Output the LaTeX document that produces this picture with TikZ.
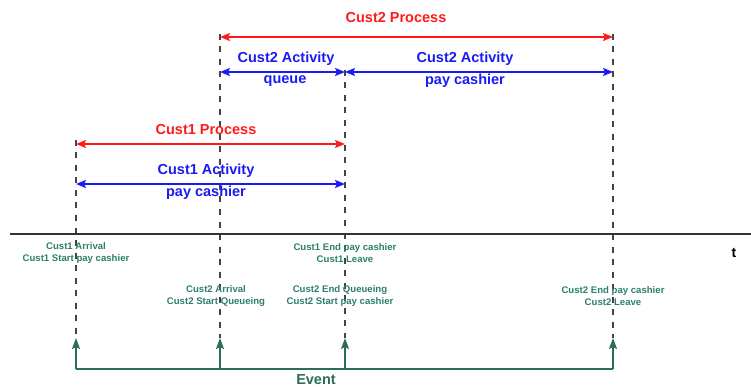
\documentclass[tikz,border=0pt]{standalone}
\usepackage{fontspec}
\setmainfont{Liberation Sans}
\usetikzlibrary{arrows.meta}
\definecolor{procred}{HTML}{FF1A1A}
\definecolor{actblue}{HTML}{1A1AF5}
\definecolor{evgreen}{HTML}{2A6E55}
\definecolor{lblgreen}{HTML}{2C7F6C}
\definecolor{axisgray}{HTML}{333333}
\definecolor{guidegray}{HTML}{444444}
\tikzset{
  guide/.style={draw=guidegray, line width=1.2pt, dash pattern=on 6pt off 6.5pt},
  procarrow/.style={draw=procred, line width=1.7pt, {Stealth[length=10pt,width=8pt,inset=2pt]}-{Stealth[length=10pt,width=8pt,inset=2pt]}},
  actarrow/.style={draw=actblue, line width=1.7pt, {Stealth[length=10pt,width=8pt,inset=2pt]}-{Stealth[length=10pt,width=8pt,inset=2pt]}},
  proclabel/.style={text=procred, font=\bfseries\fontsize{14.5}{16}\selectfont, inner sep=0pt},
  actlabel/.style={text=actblue, font=\bfseries\fontsize{14.5}{16}\selectfont, inner sep=0pt, align=center},
  evlabel/.style={text=lblgreen, font=\bfseries\fontsize{9.6}{11.2}\selectfont, inner sep=0pt, align=center},
  evarrow/.style={draw=evgreen, line width=1.8pt, -{Stealth[length=11pt,width=8pt,inset=2pt]}},
  evline/.style={draw=evgreen, line width=1.8pt}
}
\begin{document}
\begin{tikzpicture}[x=1pt,y=-1pt]
\useasboundingbox (0,0) rectangle (751,387);

% dashed guides
\coordinate (g1top) at (76,140);  \coordinate (g1bot) at (76,338);
\coordinate (g2top) at (220,34);  \coordinate (g2bot) at (220,338);
\coordinate (g3top) at (345,70);  \coordinate (g3bot) at (345,338);
\coordinate (g4top) at (613,34);  \coordinate (g4bot) at (613,338);
\draw[guide] (g1top) -- (g1bot);
\draw[guide] (g2top) -- (g2bot);
\draw[guide] (g3top) -- (g3bot);
\draw[guide] (g4top) -- (g4bot);

% time axis
\coordinate (axL) at (10,234);
\coordinate (axR) at (751,234);
\draw[draw=axisgray, line width=2.8pt] (axL) -- (axR);
\node[font=\bfseries\fontsize{14}{16}\selectfont, inner sep=0pt] (tlab) at (734,253) {t};

% customer 2 process and activities
\coordinate (c2pL) at (220,37);  \coordinate (c2pR) at (613,37);
\draw[procarrow] (c2pL) -- (c2pR);
\node[proclabel] (c2proc) at (396,18) {Cust2 Process};

\coordinate (c2qL) at (220,72);  \coordinate (c2qR) at (345,72);
\coordinate (c2cL) at (345,72);  \coordinate (c2cR) at (613,72);
\draw[actarrow] (c2qL) -- (c2qR);
\draw[actarrow] (c2cL) -- (c2cR);
\node[actlabel] (c2act1) at (286,59) {Cust2 Activity};
\node[actlabel] (c2q) at (285,81) {queue};
\node[actlabel] (c2act2) at (465,59) {Cust2 Activity};
\node[actlabel] (c2pay) at (465,81) {pay cashier};

% customer 1 process and activity
\coordinate (c1pL) at (76,144);  \coordinate (c1pR) at (345,144);
\draw[procarrow] (c1pL) -- (c1pR);
\node[proclabel] (c1proc) at (206,130) {Cust1 Process};

\coordinate (c1aL) at (76,184);  \coordinate (c1aR) at (345,184);
\draw[actarrow] (c1aL) -- (c1aR);
\node[actlabel] (c1act) at (206,171) {Cust1 Activity};
\node[actlabel] (c1pay) at (206,193) {pay cashier};

% event descriptions
\node[evlabel] (ev1) at (76,253) {Cust1 Arrival\\Cust1 Start pay cashier};
\node[evlabel] (ev3a) at (345,253) {Cust1 End pay cashier\\Cust1 Leave};
\node[evlabel] (ev2) at (216,296) {Cust2 Arrival\\Cust2 Start Queueing};
\node[evlabel] (ev3b) at (340,296) {Cust2 End Queueing\\Cust2 Start pay cashier};
\node[evlabel] (ev4) at (613,296) {Cust2 End pay cashier\\Cust2 Leave};

% event bracket
\coordinate (b1) at (76,369);
\coordinate (b2) at (220,369);
\coordinate (b3) at (345,369);
\coordinate (b4) at (613,369);
\draw[evline] (b1) -- (b4);
\draw[evarrow] (b1) -- (g1bot);
\draw[evarrow] (b2) -- (g2bot);
\draw[evarrow] (b3) -- (g3bot);
\draw[evarrow] (b4) -- (g4bot);
\node[text=evgreen, font=\bfseries\fontsize{14.5}{16}\selectfont, inner sep=0pt] (evt) at (316,379.5) {Event};
\end{tikzpicture}
\end{document}
